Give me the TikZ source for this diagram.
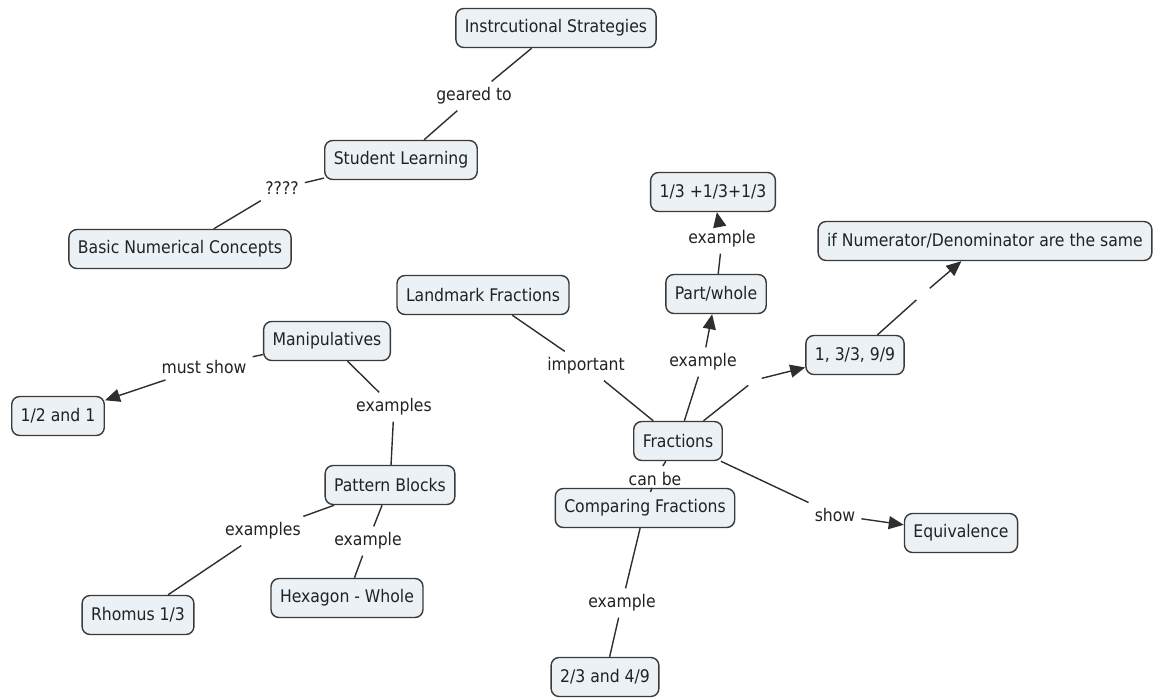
\documentclass[tikz,border=0pt]{standalone}
\usepackage{fontspec}
\setmainfont{DejaVu Sans Condensed}
\usetikzlibrary{arrows.meta}
\definecolor{conceptfill}{HTML}{EBF1F5}
\definecolor{conceptedge}{HTML}{3A3A3A}
\definecolor{linkcol}{HTML}{2E2E2E}
\definecolor{textcol}{HTML}{222222}
\begin{document}
\begin{tikzpicture}[x=1pt,y=-1pt,
  concept/.style={draw=conceptedge, fill=conceptfill, rounded corners=8pt,
    line width=1.4pt, font=\fontsize{17.4}{20}\selectfont, text=textcol,
    inner xsep=9pt, minimum height=39pt},
  phrase/.style={font=\fontsize{17.4}{20}\selectfont, text=textcol, inner sep=6pt},
  gap/.style={inner sep=0pt, minimum size=13pt},
  link/.style={draw=linkcol, line width=1.4pt},
  arrowlink/.style={link, -{Triangle[length=15pt,width=13pt]}}]
\useasboundingbox (0,0) rectangle (1155,698);
% concepts
\node[concept] (instr) at (556,28) {Instrcutional Strategies};
\node[concept] (student) at (401,160) {Student Learning};
\node[concept] (basic) at (180,249) {Basic Numerical Concepts};
\node[concept] (landmark) at (483,295) {Landmark Fractions};
\node[concept] (manip) at (327,341) {Manipulatives};
\node[concept] (half) at (58,416) {1/2 and 1};
\node[concept] (pattern) at (390,485) {Pattern Blocks};
\node[concept] (rhomus) at (138,615) {Rhomus 1/3};
\node[concept] (hexagon) at (347,598) {Hexagon - Whole};
\node[concept] (fractions) at (678,441) {Fractions};
\node[concept] (comparing) at (645,508) {Comparing Fractions};
\node[concept] (twothirds) at (605,677) {2/3 and 4/9};
\node[concept] (equiv) at (961,533) {Equivalence};
\node[concept] (ones) at (855,355) {1, 3/3, 9/9};
\node[concept] (same) at (985,241) {if Numerator/Denominator are the same};
\node[concept] (partwhole) at (716,294) {Part/whole};
\node[concept] (thirds) at (713,192) {1/3 +1/3+1/3};
% linking phrases
\node[phrase] (geared) at (474,96) {geared to};
\node[phrase] (qmarks) at (282,188) {????};
\node[phrase] (important) at (586,366) {important};
\node[phrase] (exPW) at (703,362) {example};
\node[phrase] (exTh) at (722,239) {example};
\node[gap] (g1) at (755,380) {};
\node[gap] (g2) at (923,294) {};
\node[phrase] (show) at (835,515) {show};
\node[phrase] (canbe) at (655,479) {can be};
\node[phrase] (exCmp) at (622,603) {example};
\node[phrase] (mustshow) at (204,367) {must show};
\node[phrase] (exsManip) at (394,407) {examples};
\node[phrase] (exsPat) at (263,531) {examples};
\node[phrase] (exHex) at (368,541) {example};
% connectors
\draw[link] (instr) -- (geared);
\draw[link] (geared) -- (student);
\draw[link] (student) -- (qmarks);
\draw[link] (qmarks) -- (basic);
\draw[link] (landmark) -- (important);
\draw[link] (important) -- (fractions);
\draw[link] (fractions) -- (exPW);
\draw[arrowlink] (exPW) -- (partwhole);
\draw[link] (partwhole) -- (exTh);
\draw[arrowlink] (exTh) -- (thirds);
\draw[link] (fractions) -- (g1);
\draw[arrowlink] (g1) -- (ones);
\draw[link] (ones) -- (g2);
\draw[arrowlink] (g2) -- (same);
\draw[link] (fractions) -- (show);
\draw[arrowlink] (show) -- (equiv);
\draw[link] (fractions) -- (canbe);
\draw[link] (canbe) -- (comparing);
\draw[link] (comparing) -- (exCmp);
\draw[link] (exCmp) -- (twothirds);
\draw[link] (manip) -- (mustshow);
\draw[arrowlink] (mustshow) -- (half);
\draw[link] (manip) -- (exsManip);
\draw[link] (exsManip) -- (pattern);
\draw[link] (pattern) -- (exsPat);
\draw[link] (exsPat) -- (rhomus);
\draw[link] (pattern) -- (exHex);
\draw[link] (exHex) -- (hexagon);
\end{tikzpicture}
\end{document}
